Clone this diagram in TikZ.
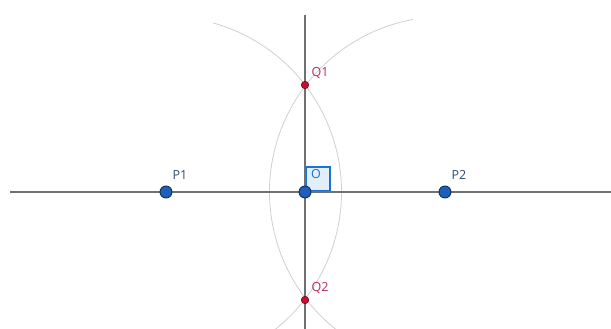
\documentclass[tikz,border=0pt]{standalone}
\usepackage{fontspec}
\setmainfont{Open Sans}
\definecolor{axgray}{HTML}{707070}
\definecolor{arcgray}{HTML}{CFCFCF}
\definecolor{ptblue}{HTML}{1F5FB8}
\definecolor{ptedge}{HTML}{0E2F63}
\definecolor{ptred}{HTML}{C8102E}
\definecolor{redge}{HTML}{6E0A1A}
\definecolor{boxblue}{HTML}{1A73D1}
\definecolor{boxfill}{HTML}{E3EEFB}
\definecolor{plab}{HTML}{2E4A6E}
\definecolor{qlab}{HTML}{B8295A}
\begin{document}
\begin{tikzpicture}[x=1pt,y=1pt,
  axisline/.style={draw=axgray,line width=1.8pt},
  arcline/.style={draw=arcgray,line width=0.8pt},
  bluept/.style={circle,fill=ptblue,draw=ptedge,line width=0.9pt,inner sep=0pt,minimum size=12pt},
  redpt/.style={circle,fill=ptred,draw=redge,line width=0.6pt,inner sep=0pt,minimum size=7.5pt},
  plabel/.style={text=plab,font=\fontsize{12.5}{14}\selectfont,inner sep=0pt},
  qlabel/.style={text=qlab,font=\fontsize{12.5}{14}\selectfont,inner sep=0pt},
  rightbox/.style={draw=boxblue,fill=boxfill,line width=1.6pt}]
\useasboundingbox (0,0) rectangle (611,329);
% coordinates
\coordinate (Hl) at (10,137);
\coordinate (Hr) at (611,137);
\coordinate (Vt) at (305,314);
\coordinate (Vb) at (305,0);
\begin{scope}
\clip (0,0) rectangle (611,329);
% arcs
\draw[arcline] (166,137) ++(74.5:175.5) arc[start angle=74.5,end angle=-62,radius=175.5];
\draw[arcline] (445,137) ++(100.5:175.5) arc[start angle=100.5,end angle=242,radius=175.5];
\end{scope}
% right angle box
\node[rightbox,minimum size=24pt,inner sep=0pt,anchor=south west] (box) at (305,137) {};
% axes
\draw[axisline] (Hl) -- (Hr);
\draw[axisline] (Vt) -- (Vb);
% points
\node[bluept] (P1) at (166,137) {};
\node[bluept] (P2) at (445,137) {};
\node[bluept] (O) at (305,137) {};
\node[redpt] (Q1) at (305,244) {};
\node[redpt] (Q2) at (305,29) {};
% labels
\node[plabel] (lP1) at (180,154) {P1};
\node[plabel] (lP2) at (459,154) {P2};
\node[plabel,text=boxblue] (lO) at (316,155) {O};
\node[qlabel] (lQ1) at (320,256) {Q1};
\node[qlabel] (lQ2) at (320,41) {Q2};
\end{tikzpicture}
\end{document}
